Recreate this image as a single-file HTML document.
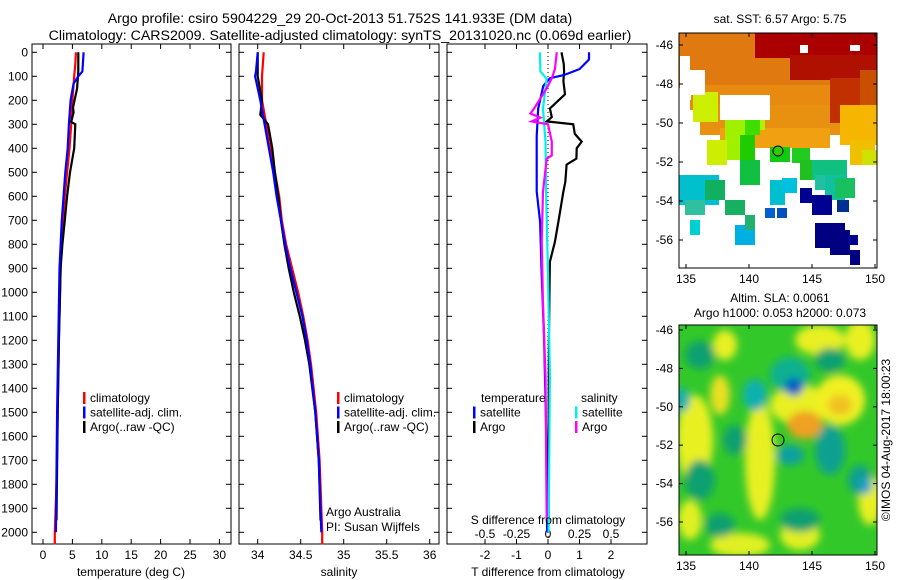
<!DOCTYPE html>
<html><head><meta charset="utf-8"><style>
html,body{margin:0;padding:0;background:#fff;}
svg{display:block;font-family:"Liberation Sans",sans-serif;font-size:12px;}
.ttl{font-size:14.2px;}
</style></head><body>
<svg id="fig" width="900" height="580" viewBox="0 0 900 580" xmlns="http://www.w3.org/2000/svg">
<defs>
<filter id="blur" x="-20%" y="-20%" width="140%" height="140%"><feGaussianBlur stdDeviation="4"/></filter>
<clipPath id="clip2"><rect x="679" y="325" width="198" height="230"/></clipPath>
<clipPath id="clip1"><rect x="679" y="33" width="198" height="235"/></clipPath>
</defs>
<text class="ttl" x="340" y="23" text-anchor="middle">Argo profile: csiro 5904229_29 20-Oct-2013 51.752S 141.933E (DM data)</text>
<text class="ttl" x="340" y="40" text-anchor="middle">Climatology: CARS2009. Satellite-adjusted climatology: synTS_20131020.nc (0.069d earlier)</text>
<g id="plots"></g>
<g id="maps"></g>
</svg>
<script>
// ---- data ----
const depthTicks = [0,100,200,300,400,500,600,700,800,900,1000,1100,1200,1300,1400,1500,1600,1700,1800,1900,2000];
const tempTicks = [0,5,10,15,20,25,30];
const salTicks = [34,34.5,35,35.5,36];
const tDiffTicks = [-2,-1,0,1,2];
const sDiffTicks = [-0.5,-0.25,0,0.25,0.5];
const climTemp = [[0,5.6],[50,5.5],[100,5.3],[200,5.0],[300,4.8],[400,4.5],[500,4.1],[600,3.7],[700,3.4],[800,3.1],[900,3.0],[1000,2.9],[1200,2.7],[1500,2.5],[1800,2.3],[2000,2.0],[2050,2.0]];
const satTemp = [[0,6.9],[80,6.7],[100,6.0],[130,5.2],[200,4.7],[300,4.4],[400,4.2],[500,3.8],[700,3.2],[900,2.8],[1200,2.6],[1500,2.4],[2000,2.2]];
const argoTemp = [[0,6.0],[80,6.0],[150,5.8],[230,5.1],[250,5.2],[290,4.8],[300,5.5],[400,5.3],[500,4.6],[600,4.1],[700,3.7],[800,3.3],[900,3.0],[1200,2.7],[1500,2.5],[1950,2.3]];
const climSal = [[0,34.07],[100,34.05],[200,34.05],[300,34.1],[400,34.15],[500,34.2],[600,34.25],[700,34.28],[800,34.33],[900,34.4],[1000,34.47],[1100,34.53],[1200,34.58],[1300,34.62],[1400,34.65],[1500,34.68],[1700,34.72],[2000,34.75],[2050,34.75]];
const satSal = [[0,34.0],[80,33.98],[100,33.97],[200,34.03],[300,34.08],[400,34.13],[500,34.18],[600,34.22],[700,34.27],[800,34.32],[900,34.38],[1000,34.45],[1100,34.52],[1200,34.57],[1300,34.61],[1400,34.64],[1500,34.67],[1700,34.71],[2000,34.74]];
const argoSal = [[0,34.0],[100,34.0],[200,34.05],[260,34.03],[300,34.12],[400,34.17],[500,34.2],[600,34.24],[700,34.27],[800,34.31],[900,34.36],[1000,34.42],[1100,34.49],[1200,34.55],[1300,34.6],[1500,34.67],[1700,34.71],[1950,34.73]];
const satTDiff = [[0,1.3],[30,1.3],[70,1.0],[95,0.5],[108,0.06],[140,-0.15],[234,-0.31],[350,-0.36],[580,-0.36],[706,-0.25],[927,-0.2],[1207,-0.12],[1624,-0.05],[2000,-0.03]];
const argoTDiff = [[0,0.43],[50,0.5],[80,0.51],[120,0.49],[175,0.54],[234,0.06],[270,0.12],[288,-0.04],[300,0.8],[340,0.85],[372,1.07],[400,0.91],[443,0.9],[468,0.59],[540,0.55],[580,0.49],[706,0.33],[790,0.22],[873,0.06],[956,0.05],[1200,0.03],[1600,0.02],[1950,0.02]];
const satSDiff = [[0,-0.065],[80,-0.06],[110,-0.01],[234,-0.04],[372,-0.02],[580,-0.015],[927,0.0],[1350,0.015],[2000,0.005]];
const argoSDiff = [[0,0.07],[70,0.055],[108,0.03],[150,-0.01],[234,-0.11],[255,-0.14],[272,-0.06],[288,-0.13],[300,0],[372,0.03],[430,0.03],[443,-0.01],[580,-0.04],[789,-0.05],[1050,-0.04],[1350,-0.02],[1950,-0.01]];
const lonTicks = [135,140,145,150];
const latTicks = [-46,-48,-50,-52,-54,-56];

const NS="http://www.w3.org/2000/svg";
function mk(tag, attrs, parent, txt){const e=document.createElementNS(NS,tag);for(const k in attrs)e.setAttribute(k,attrs[k]);if(txt!==undefined)e.textContent=txt;parent.appendChild(e);return e;}
const plots=document.getElementById('plots');
const yTop=44, yBot=544;
const yD = d => 52.3 + d*0.24;
const panels=[
 {x0:32,x1:231,xf:v=>43+v*5.88,name:'temperature'},
 {x0:239,x1:439,xf:v=>257.7+(v-34)*86,name:'salinity'},
 {x0:447,x1:647,xf:v=>548+v*31.5,name:'difference'}];
const sf = v=>548+v*126;
function line(data,xf,color,name,p){
  const d=data.map((q,i)=>(i?'L':'M')+xf(q[1]).toFixed(1)+' '+yD(q[0]).toFixed(1)).join(' ');
  const el=mk('path',{d:d,fill:'none',stroke:color,'stroke-width':2.2},p);
  
  
}
panels.forEach((P,i)=>{
  const g=mk('g',{},plots);
  
  
  const fr=mk('rect',{x:P.x0,y:yTop,width:P.x1-P.x0,height:yBot-yTop,fill:'none',stroke:'#000','stroke-width':1},g);
  
  
  depthTicks.forEach(d=>{
    mk('line',{x1:P.x0,x2:P.x0+5,y1:yD(d),y2:yD(d),stroke:'#000'},g);
    mk('line',{x1:P.x1,x2:P.x1-5,y1:yD(d),y2:yD(d),stroke:'#000'},g);
    if(i===0){const t=mk('text',{x:P.x0-4,y:yD(d)+4,'text-anchor':'end'},g,String(d));
      
      }
  });
});
tempTicks.forEach(v=>{const x=panels[0].xf(v);
  mk('line',{x1:x,x2:x,y1:yBot,y2:yBot-5,stroke:'#000'},plots);mk('line',{x1:x,x2:x,y1:yTop,y2:yTop+5,stroke:'#000'},plots);
  const t=mk('text',{x:x,y:559,'text-anchor':'middle'},plots,String(v));
  
  });
salTicks.forEach(v=>{const x=panels[1].xf(v);
  mk('line',{x1:x,x2:x,y1:yBot,y2:yBot-5,stroke:'#000'},plots);mk('line',{x1:x,x2:x,y1:yTop,y2:yTop+5,stroke:'#000'},plots);
  const t=mk('text',{x:x,y:559,'text-anchor':'middle'},plots,String(v));
  
  });
tDiffTicks.forEach(v=>{const x=panels[2].xf(v);
  mk('line',{x1:x,x2:x,y1:yBot,y2:yBot-5,stroke:'#000'},plots);mk('line',{x1:x,x2:x,y1:yTop,y2:yTop+5,stroke:'#000'},plots);
  const t=mk('text',{x:x,y:559,'text-anchor':'middle'},plots,String(v));
  
  });
sDiffTicks.forEach(v=>{const x=sf(v);
  const t=mk('text',{x:x,y:538,'text-anchor':'middle'},plots,String(v));
  
  });
mk('line',{x1:548,x2:548,y1:yTop,y2:yBot,stroke:'#000','stroke-dasharray':'1,3'},plots);
line(climTemp,panels[0].xf,'#f00','temp-climatology-line',plots);
line(argoTemp,panels[0].xf,'#000','temp-argo-line',plots);
line(satTemp,panels[0].xf,'#00f','temp-satellite-line',plots);
line(climSal,panels[1].xf,'#f00','sal-climatology-line',plots);
line(argoSal,panels[1].xf,'#000','sal-argo-line',plots);
line(satSal,panels[1].xf,'#00f','sal-satellite-line',plots);
line(argoTDiff,panels[2].xf,'#000','tdiff-argo-line',plots);
line(satTDiff,panels[2].xf,'#00f','tdiff-satellite-line',plots);
line(satSDiff,sf,'#0ee','sdiff-satellite-line',plots);
line(argoSDiff,sf,'#f0f','sdiff-argo-line',plots);
[[131,'temperature (deg C)'],[339,'salinity'],[548,'T difference from climatology']].forEach(a=>{
  const t=mk('text',{x:a[0],y:576,'text-anchor':'middle'},plots,a[1]);
  
  });
const st=mk('text',{x:548,y:524,'text-anchor':'middle'},plots,'S difference from climatology');


function leg(x,y,color,label){
  mk('rect',{x:x,y:y-10,width:2.5,height:12,fill:color},plots);
  const t=mk('text',{x:x+7,y:y},plots,label);
  
  
}
[[83,'#f00','climatology'],[83,'#00f','satellite-adj. clim.'],[83,'#000','Argo(..raw -QC)']].forEach((l,k)=>leg(l[0],402+k*14.5,l[1],l[2]));
[[337,'#f00','climatology'],[337,'#00f','satellite-adj. clim.'],[337,'#000','Argo(..raw -QC)']].forEach((l,k)=>leg(l[0],402+k*14.5,l[1],l[2]));
mk('text',{x:481,y:402},plots,'temperature');
mk('text',{x:581,y:402},plots,'salinity');
leg(473,416.5,'#00f','satellite');leg(473,431,'#000','Argo');
leg(575,416.5,'#0ee','satellite');leg(575,431,'#f0f','Argo');
mk('text',{x:326,y:516},plots,'Argo Australia');
mk('text',{x:326,y:531},plots,'PI: Susan Wijffels');

// ---- maps ----
const maps=document.getElementById('maps');
function mapAxes(y0,y1,latY,name){
  const fr=mk('rect',{x:679,y:y0,width:198,height:y1-y0,fill:'none',stroke:'#000'},maps);
  
  
  const lx=v=>686+(v-135)*12.6;
  lonTicks.forEach(v=>{mk('line',{x1:lx(v),x2:lx(v),y1:y1,y2:y1-4,stroke:'#000'},maps);mk('line',{x1:lx(v),x2:lx(v),y1:y0,y2:y0+4,stroke:'#000'},maps);
    const t=mk('text',{x:lx(v),y:y1+15,'text-anchor':'middle'},maps,String(v));
    
    });
  latTicks.forEach(v=>{const y=latY(v);mk('line',{x1:679,x2:683,y1:y,y2:y,stroke:'#000'},maps);mk('line',{x1:877,x2:873,y1:y,y2:y,stroke:'#000'},maps);
    const t=mk('text',{x:673,y:y+4,'text-anchor':'end'},maps,String(v));
    
    });
}
const g1=mk('g',{'clip-path':'url(#clip1)'},maps);


const sstBlocks=[
 ['#e07a10',679,33,198,55],['#e88a10',690,85,187,25],['#e89010',700,105,150,30],['#f0a010',720,128,110,20],
 ['#aa0000',755,33,122,25],['#b01000',790,55,87,25],['#c03000',830,78,30,45],['#c85000',860,70,17,40],
 ['#f5b500',840,105,37,40],['#f0c000',850,140,25,25],['#d0e000',862,150,15,15],
 ['#ccee00',693,92,25,30],['#b0f000',735,110,30,20],['#a0f000',725,120,20,40],['#ccee00',707,140,20,25],
 ['#40dd00',745,110,15,25],['#20cc00',740,135,15,25],['#10cc10',770,147,20,15],['#20cc20',792,148,18,15],
 ['#10c040',740,160,20,25],['#20c020',800,160,15,20],['#10c080',812,160,35,20],['#20c0a0',815,175,30,15],
 ['#10c0a0',825,175,20,25],['#18c060',835,178,20,20],['#00c0d0',679,175,40,30],['#10b060',705,180,20,20],
 ['#30c0a0',685,200,20,15],['#18b060',725,200,20,15],['#00c0d0',770,180,15,25],['#00c0e0',782,178,15,15],
 ['#00d0d0',690,220,10,15],['#00b0e0',735,225,20,20],['#20b070',745,215,10,15],
 ['#0060d0',765,208,10,10],['#0050c0',777,208,10,10],['#000090',800,188,12,15],['#000090',812,195,20,20],
 ['#000080',815,223,30,25],['#000080',830,230,20,25],['#003090',837,200,12,12],['#000080',850,250,10,15],['#000090',848,235,10,10]
];
sstBlocks.forEach(b=>mk('rect',{x:b[1],y:b[2],width:b[3],height:b[4],fill:b[0]},g1));
[[720,95,50,25],[690,70,15,25],[680,56,10,50],[800,45,8,8],[850,45,10,6]].forEach(b=>mk('rect',{x:b[0],y:b[1],width:b[2],height:b[3],fill:'#fff'},g1));
mk('rect',{x:679,y:88,width:12,height:12,fill:'#fff'},g1);
mk('circle',{cx:778,cy:151,r:5,fill:'#30cc00',stroke:'#000'},maps);
mapAxes(33,268,v=>45+(-46-v)*19.5,'sst-map-frame');
const g2=mk('g',{'clip-path':'url(#clip2)'},maps);


mk('rect',{x:679,y:325,width:198,height:230,fill:'#33c82a'},g2);
const gb=mk('g',{filter:'url(#blur)'},g2);
const slaBlobs=[
 ['#e8f020',695,440,18,45],['#e8f020',760,460,15,60],['#e8f020',800,405,30,20],['#f0f020',840,400,25,25],
 ['#e8e020',720,395,10,20],['#f0a020',805,425,18,14],['#f0c020',840,405,12,10],['#e8f020',820,340,25,15],
 ['#e8f020',860,340,15,20],['#e8f020',870,500,12,25],['#e0f020',740,545,30,12],['#e0f020',800,535,20,15],
 ['#e8f020',725,345,12,15],['#e0f020',690,520,12,20],
 ['#10a070',700,355,15,14],['#10a070',830,360,15,12],['#10b090',790,375,20,18],['#0060c8',794,387,9,9],
 ['#10b0b0',755,395,12,16],['#10b0b0',682,400,8,12],['#10a090',830,450,15,25],['#10a090',860,480,12,15],
 ['#20a0d0',866,486,6,8],['#10a0a0',790,455,14,10],['#10a070',700,480,15,20],['#10a070',735,440,12,15],
 ['#10a070',800,520,20,12],['#10a070',720,525,15,12]];
slaBlobs.forEach(b=>mk('ellipse',{cx:b[1],cy:b[2],rx:b[3],ry:b[4],fill:b[0]},gb));
mk('circle',{cx:778,cy:440,r:6,fill:'none',stroke:'#000'},maps);
mapAxes(325,555,v=>330+(-46-v)*19.2,'sla-map-frame');
[[780,23,'sat. SST: 6.57 Argo: 5.75'],[780,302,'Altim. SLA: 0.0061'],[780,317,'Argo h1000: 0.053 h2000: 0.073']].forEach(a=>{
  const t=mk('text',{x:a[0],y:a[1],'text-anchor':'middle'},maps,a[2]);
  
  });
const cr=mk('text',{x:0,y:0,'text-anchor':'middle',transform:'translate(890,440) rotate(-90)'},maps,'©IMOS 04-Aug-2017 18:00:23');


</script>
</body></html>
